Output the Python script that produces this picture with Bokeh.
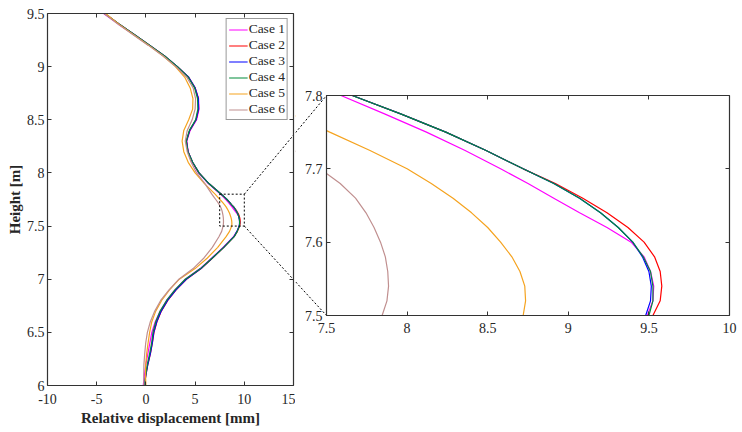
from bokeh.plotting import figure
from bokeh.models import Range1d, LinearAxis, FixedTicker, Legend, LegendItem
from bokeh.layouts import row
from bokeh.embed import file_html
from bokeh.resources import INLINE

# ---------------- data ----------------
height_m = [9.5, 9.4, 9.3, 9.2, 9.1, 9.0, 8.9, 8.8, 8.7, 8.6, 8.5, 8.4, 8.3, 8.2, 8.1, 8.0, 7.9,
            7.8, 7.775, 7.75, 7.725, 7.7, 7.68, 7.66, 7.64, 7.62, 7.6, 7.58, 7.56, 7.54, 7.52, 7.5,
            7.45, 7.4, 7.3, 7.2, 7.1, 7.0, 6.9, 6.8, 6.7, 6.6, 6.5, 6.4, 6.3, 6.2, 6.1, 6.0]

case_1 = [-4.3, -2.8, -1.2, 0.35, 1.85, 3.15, 4.3, 5.0, 5.35, 5.4, 5.15, 4.5, 4.15, 4.3, 4.7, 5.35, 6.35,
          7.59, 7.86, 8.12, 8.36, 8.58, 8.75, 8.91, 9.07, 9.24, 9.39, 9.47, 9.51, 9.53, 9.525, 9.49,
          9.25, 8.9, 7.85, 6.7, 5.5, 4.0, 2.95, 2.1, 1.45, 0.95, 0.6, 0.4, 0.2, 0.0, -0.15, -0.27]
case_2 = [-4.2, -2.7, -1.15, 0.4, 1.9, 3.2, 4.35, 5.0, 5.33, 5.35, 5.1, 4.45, 4.12, 4.28, 4.75, 5.4, 6.4,
          7.66, 7.96, 8.24, 8.49, 8.72, 8.92, 9.09, 9.24, 9.37, 9.47, 9.535, 9.57, 9.58, 9.57, 9.525,
          9.3, 8.97, 7.92, 6.78, 5.62, 4.12, 3.07, 2.22, 1.57, 1.12, 0.82, 0.66, 0.46, 0.2, 0.0, -0.15]
case_3 = [-4.2, -2.7, -1.15, 0.4, 1.9, 3.2, 4.35, 5.0, 5.33, 5.35, 5.1, 4.45, 4.12, 4.28, 4.75, 5.4, 6.4,
          7.66, 7.96, 8.24, 8.49, 8.72, 8.91, 9.07, 9.20, 9.31, 9.40, 9.46, 9.50, 9.515, 9.51, 9.48,
          9.25, 8.95, 7.9, 6.75, 5.6, 4.1, 3.05, 2.2, 1.55, 1.1, 0.8, 0.65, 0.45, 0.2, 0.0, -0.15]
case_4 = [-4.2, -2.7, -1.15, 0.4, 1.9, 3.2, 4.3, 4.95, 5.25, 5.28, 5.05, 4.42, 4.1, 4.27, 4.75, 5.4, 6.4,
          7.66, 7.96, 8.24, 8.49, 8.72, 8.91, 9.07, 9.20, 9.31, 9.40, 9.465, 9.51, 9.525, 9.525, 9.50,
          9.28, 8.97, 7.92, 6.75, 5.55, 4.0, 2.95, 2.1, 1.45, 1.0, 0.72, 0.58, 0.38, 0.15, -0.02, -0.15]
case_5 = [-4.1, -2.75, -1.25, 0.3, 1.75, 3.0, 3.95, 4.5, 4.78, 4.75, 4.35, 3.85, 3.68, 3.85, 4.3, 5.0, 5.95,
          7.03, 7.28, 7.52, 7.77, 8.0, 8.15, 8.285, 8.40, 8.50, 8.58, 8.65, 8.70, 8.73, 8.735, 8.72,
          8.5, 8.15, 7.3, 6.25, 5.0, 3.4, 2.4, 1.6, 1.0, 0.6, 0.38, 0.22, 0.08, -0.02, -0.04, 0.0]
case_6 = [-4.25, -2.85, -1.3, 0.25, 1.75, 3.05, 4.15, 4.8, 5.05, 5.0, 4.7, 4.2, 4.0, 4.2, 4.6, 5.15, 6.0,
          6.7, 6.9, 7.1, 7.3, 7.46, 7.585, 7.68, 7.745, 7.795, 7.835, 7.865, 7.88, 7.885, 7.875, 7.845,
          7.7, 7.42, 6.75, 5.9, 4.8, 3.35, 2.35, 1.5, 0.9, 0.45, 0.15, -0.02, -0.12, -0.2, -0.22, -0.2]

case_labels = ["Case 1", "Case 2", "Case 3", "Case 4", "Case 5", "Case 6"]
case_colors = ["#ff00ff", "#ff0000", "#0000ff", "#008c3a", "#f5a31f", "#c08f8f"]

left_xlim = (-10, 15)
left_ylim = (6, 9.5)
left_xticks = [-10, -5, 0, 5, 10, 15]
left_xtick_labels = ["-10", "-5", "0", "5", "10", "15"]
left_yticks = [6, 6.5, 7, 7.5, 8, 8.5, 9, 9.5]
left_ytick_labels = ["6", "6.5", "7", "7.5", "8", "8.5", "9", "9.5"]

zoom_xlim = (7.5, 10)
zoom_ylim = (7.5, 7.8)
zoom_xticks = [7.5, 8, 8.5, 9, 9.5, 10]
zoom_xtick_labels = ["7.5", "8", "8.5", "9", "9.5", "10"]
zoom_yticks = [7.5, 7.6, 7.7, 7.8]
zoom_ytick_labels = ["7.5", "7.6", "7.7", "7.8"]

# ---------------- layout geometry (page pixels; Bokeh page has no body margin) ----------------
L_W, H = 295, 431
L_MB = dict(left=47, right=2, top=13, bottom=46)
R_W = 446
R_MB = dict(left=0, right=2, top=13, bottom=46)
BOX = dict(left=326, right=729, top=95, bottom=315)   # zoom panel box on the page

lfx0 = L_MB["left"]; lfx1 = L_W - L_MB["right"]
fy0 = L_MB["top"]; fy1 = H - L_MB["bottom"]
rfx0 = L_W + R_MB["left"]; rfx1 = L_W + R_W - R_MB["right"]

lsx = (lfx1 - lfx0) / (left_xlim[1] - left_xlim[0])
lsy = (fy1 - fy0) / (left_ylim[1] - left_ylim[0])
rsx = (BOX["right"] - BOX["left"]) / (zoom_xlim[1] - zoom_xlim[0])
rsy = (BOX["bottom"] - BOX["top"]) / (zoom_ylim[1] - zoom_ylim[0])
r_x0 = zoom_xlim[0] - (BOX["left"] - rfx0) / rsx
r_x1 = zoom_xlim[1] + (rfx1 - BOX["right"]) / rsx
r_y1 = zoom_ylim[1] + (BOX["top"] - fy0) / rsy
r_y0 = zoom_ylim[0] - (fy1 - BOX["bottom"]) / rsy


def left_to_page(x, y):
    return lfx0 + (x - left_xlim[0]) * lsx, fy0 + (left_ylim[1] - y) * lsy


def page_to_left(px, py):
    return left_xlim[0] + (px - lfx0) / lsx, left_ylim[1] - (py - fy0) / lsy


def right_to_page(x, y):
    return rfx0 + (x - r_x0) * rsx, fy0 + (r_y1 - y) * rsy


def page_to_right(px, py):
    return r_x0 + (px - rfx0) / rsx, r_y1 - (py - fy0) / rsy


FONT = "Liberation Serif"
AXC = "#333333"
TXT = "#262626"


def style_axis(ax, ticks, labels=None, bounds=None, standoff=4):
    if labels is None:
        ax.ticker = FixedTicker(ticks=[], minor_ticks=ticks)
    else:
        ax.ticker = FixedTicker(ticks=ticks)
        ax.major_label_overrides = {t: l for t, l in zip(ticks, labels)}
    ax.major_tick_in = 4
    ax.major_tick_out = 0
    ax.minor_tick_in = 4
    ax.minor_tick_out = 0
    ax.axis_line_color = AXC
    ax.axis_line_width = 1.2
    ax.major_tick_line_color = AXC
    ax.minor_tick_line_color = AXC
    ax.major_tick_line_width = 1
    ax.minor_tick_line_width = 1
    ax.major_label_text_font = FONT
    ax.major_label_text_font_size = "14px"
    ax.major_label_text_color = TXT
    ax.major_label_standoff = standoff if labels is not None else 0
    if bounds is not None:
        ax.bounds = bounds


# ---------------- left: full profile ----------------
left = figure(width=L_W, height=H, x_range=Range1d(*left_xlim), y_range=Range1d(*left_ylim),
              output_backend="svg", toolbar_location=None,
              min_border_left=L_MB["left"], min_border_right=L_MB["right"],
              min_border_top=L_MB["top"], min_border_bottom=L_MB["bottom"])
left.outline_line_color = None
left.grid.visible = False
left.background_fill_color = "white"
left.border_fill_color = "white"
left.add_layout(LinearAxis(), "above")
left.add_layout(LinearAxis(), "right")
style_axis(left.below[0], left_xticks, left_xtick_labels, standoff=8)
style_axis(left.left[0], left_yticks, left_ytick_labels, standoff=3)
style_axis(left.above[0], left_xticks)
style_axis(left.right[0], left_yticks)
left.below[0].axis_label_standoff = 3
left.left[0].axis_label_standoff = 1
for ax, lab in ((left.below[0], "Relative displacement [mm]"), (left.left[0], "Height [m]")):
    ax.axis_label = lab
    ax.axis_label_text_font = FONT
    ax.axis_label_text_font_size = "15px"
    ax.axis_label_text_font_style = "bold"
    ax.axis_label_text_color = TXT

cases = [case_1, case_2, case_3, case_4, case_5, case_6]
items = []
for xs, lab, col in zip(cases, case_labels, case_colors):
    r = left.line(x=xs, y=height_m, line_color=col, line_width=1.2)
    items.append(LegendItem(label=lab, renderers=[r]))

# zoom box and the left part of the connectors
left.quad(left=[zoom_xlim[0]], right=[zoom_xlim[1]], bottom=[zoom_ylim[0]], top=[zoom_ylim[1]],
          fill_color=None, line_color="black", line_width=1, line_dash="2 2")
c_top = page_to_left(*right_to_page(zoom_xlim[0], zoom_ylim[1]))
c_bot = page_to_left(*right_to_page(zoom_xlim[0], zoom_ylim[0]))
left.segment(x0=[zoom_xlim[1], zoom_xlim[1]], y0=[zoom_ylim[1], zoom_ylim[0]],
             x1=[c_top[0], c_bot[0]], y1=[c_top[1], c_bot[1]],
             line_color="black", line_width=1, line_dash="2 2")

legend = Legend(items=items, location="top_right")
legend.margin = 5
legend.padding = 2
legend.spacing = 0
legend.glyph_width = 19
legend.glyph_height = 15
legend.label_height = 15
legend.label_standoff = 1
legend.label_text_font = FONT
legend.label_text_font_size = "13.5px"
legend.label_text_color = TXT
legend.border_line_color = AXC
legend.border_line_width = 1.2
legend.background_fill_color = "white"
legend.background_fill_alpha = 1
left.add_layout(legend)

# ---------------- right: zoomed view ----------------
right = figure(width=R_W, height=H, x_range=Range1d(r_x0, r_x1), y_range=Range1d(r_y0, r_y1),
               output_backend="svg", toolbar_location=None,
               min_border_left=R_MB["left"], min_border_right=R_MB["right"],
               min_border_top=R_MB["top"], min_border_bottom=R_MB["bottom"])
right.outline_line_color = None
right.grid.visible = False
right.background_fill_color = "white"
right.border_fill_color = "white"

# only the part of each profile around the zoom window (avoids edge artefacts)
keep = [i for i, h in enumerate(height_m) if zoom_ylim[0] - 0.05 <= h <= zoom_ylim[1] + 1e-9]
for xs, col in zip(cases, case_colors):
    right.line(x=[xs[i] for i in keep], y=[height_m[i] for i in keep], line_color=col, line_width=1.2)

# white masks around the zoom box so curves are cut at its edges (reach past the frame)
mx0, mx1 = r_x0 - 1, r_x1 + 1
my0, my1 = r_y0 - 1, r_y1 + 1
right.quad(left=[mx0, zoom_xlim[0], zoom_xlim[0], zoom_xlim[1]],
           right=[zoom_xlim[0], mx1, mx1, mx1],
           bottom=[my0, zoom_ylim[1], my0, my0],
           top=[my1, my1, zoom_ylim[0], my1],
           fill_color="white", line_color=None)
s_top = page_to_right(*left_to_page(zoom_xlim[1], zoom_ylim[1]))
s_bot = page_to_right(*left_to_page(zoom_xlim[1], zoom_ylim[0]))
right.segment(x0=[s_top[0], s_bot[0]], y0=[s_top[1], s_bot[1]],
              x1=[zoom_xlim[0], zoom_xlim[0]], y1=[zoom_ylim[1], zoom_ylim[0]],
              line_color="black", line_width=1, line_dash="2 2")

right.add_layout(LinearAxis(), "above")
right.add_layout(LinearAxis(), "right")
style_axis(right.below[0], zoom_xticks, zoom_xtick_labels, bounds=zoom_xlim, standoff=7)
right.below[0].fixed_location = zoom_ylim[0]
style_axis(right.left[0], zoom_yticks, zoom_ytick_labels, bounds=zoom_ylim, standoff=4)
right.left[0].fixed_location = zoom_xlim[0]
style_axis(right.above[0], zoom_xticks, bounds=zoom_xlim)
right.above[0].fixed_location = zoom_ylim[1]
style_axis(right.right[0], zoom_yticks, bounds=zoom_ylim)
right.right[0].fixed_location = zoom_xlim[1]

layout = row(left, right)
open("out.html", "w").write(file_html(layout, INLINE))
